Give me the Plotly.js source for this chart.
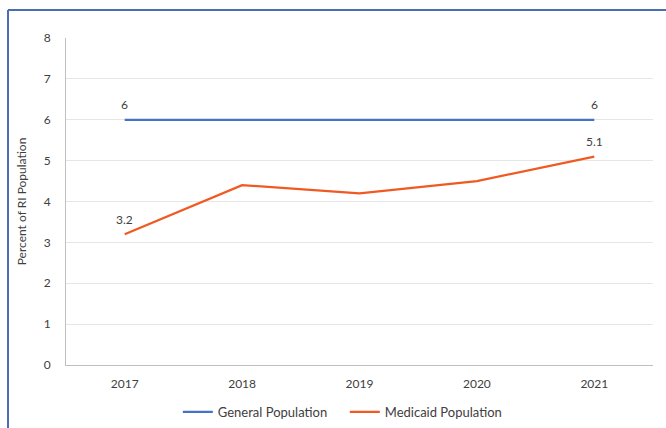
<!DOCTYPE html>
<html>
<head>
<meta charset="utf-8">
<script src="https://cdn.plot.ly/plotly-3.0.1.min.js"></script>
<style>html,body{margin:0;padding:0;background:#fff;}#chart{width:666px;height:428px;}</style>
</head>
<body>
<div id="chart"></div>
<script>
var years = ['2017', '2018', '2019', '2020', '2021'];
var generalPop = [6, 6, 6, 6, 6];
var medicaidPop = [3.2, 4.4, 4.2, 4.5, 5.1];
var generalLabels = ['6', '', '', '', '6'];
var medicaidLabels = ['3.2', '', '', '', '5.1'];

var FONT = 'Lato, "Liberation Sans", sans-serif';

var traces = [
  {
    x: years, y: generalPop, name: 'General Population', type: 'scatter', mode: 'lines',
    line: {color: '#4472C4', width: 2.25}
  },
  {
    x: years, y: medicaidPop, name: 'Medicaid Population', type: 'scatter', mode: 'lines',
    line: {color: '#F05A22', width: 2.25}
  }
];

var annotations = [];
function addLabels(ys, labels) {
  for (var i = 0; i < years.length; i++) {
    if (!labels[i]) continue;
    annotations.push({
      x: i, y: ys[i], xref: 'x', yref: 'y', text: labels[i], showarrow: false,
      yanchor: 'middle', xanchor: 'center', yshift: 15,
      font: {family: FONT, size: 12, color: '#404040'}
    });
  }
}
addLabels(generalPop, generalLabels);
addLabels(medicaidPop, medicaidLabels);

var layout = {
  width: 666, height: 428,
  margin: {l: 66, r: 13, t: 38, b: 63},
  paper_bgcolor: '#ffffff', plot_bgcolor: '#ffffff',
  font: {family: FONT, size: 12, color: '#404040'},
  showlegend: true,
  legend: {orientation: 'h', xref: 'container', yref: 'container',
           x: 0.267, xanchor: 'left', y: 1 - 412 / 428, yanchor: 'middle',
           font: {size: 13, color: '#404040'}, entrywidth: 122, entrywidthmode: 'pixels'},
  xaxis: {
    type: 'category', range: [-0.5, 4.5], showgrid: false, zeroline: false,
    showline: true, linecolor: '#bfbfbf', linewidth: 1, ticks: '', ticklabelstandoff: 8,
    tickfont: {size: 12, color: '#404040'}
  },
  yaxis: {
    range: [0, 8], dtick: 1, tick0: 0, showgrid: true, gridcolor: '#e6e6e6', gridwidth: 1,
    zeroline: false, showline: true, linecolor: '#bfbfbf', linewidth: 1, ticks: '',
    ticklabelstandoff: 12, tickfont: {size: 12, color: '#404040'},
    title: {text: 'Percent of RI Population', font: {size: 12, color: '#404040'}, standoff: 14}
  },
  annotations: annotations,
  shapes: [
    {type: 'line', xref: 'paper', yref: 'paper', x0: -0.0988, x1: -0.0988, y0: 1.0856, y1: -0.25,
     line: {color: '#4a6db3', width: 2}},
    {type: 'line', xref: 'paper', yref: 'paper', x0: -0.0988, x1: 1.05, y0: 1.0856, y1: 1.0856,
     line: {color: '#4a6db3', width: 2}}
  ]
};

Plotly.newPlot('chart', traces, layout, {displayModeBar: false, staticPlot: true});
</script>
</body>
</html>
